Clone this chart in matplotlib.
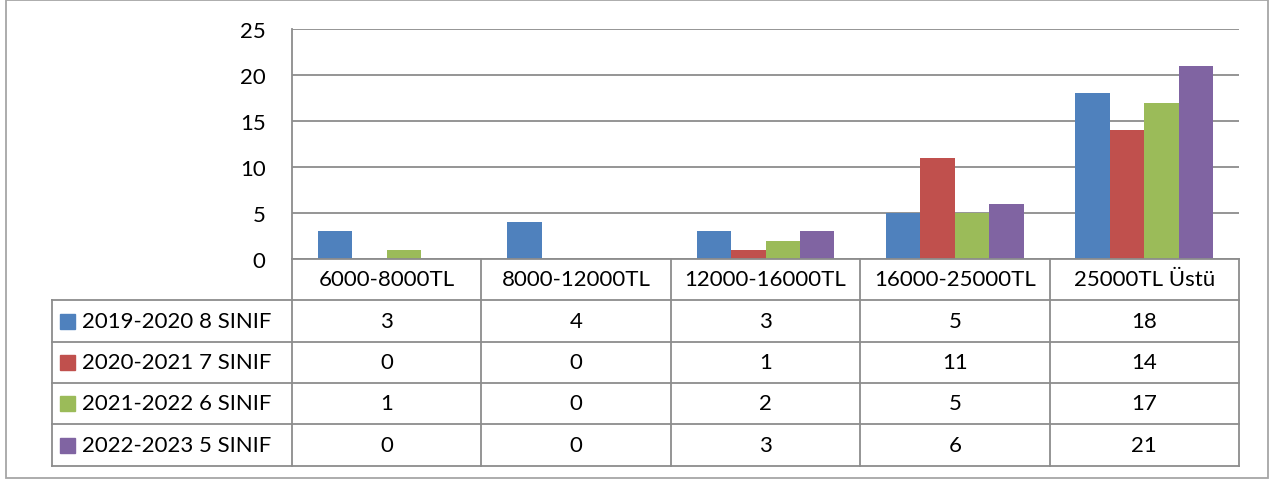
import matplotlib
matplotlib.use("Agg")
import matplotlib.pyplot as plt
from matplotlib.lines import Line2D
from matplotlib.patches import Rectangle

categories = ["6000-8000TL", "8000-12000TL", "12000-16000TL", "16000-25000TL", "25000TL Üstü"]
series_names = ["2019-2020 8 SINIF", "2020-2021 7 SINIF", "2021-2022 6 SINIF", "2022-2023 5 SINIF"]
s2019 = [3, 4, 3, 5, 18]
s2020 = [0, 0, 1, 11, 14]
s2021 = [1, 0, 2, 5, 17]
s2022 = [0, 0, 3, 6, 21]
y_ticks = [0, 5, 10, 15, 20, 25]

colors = ["#4F81BD", "#C0504D", "#9BBB59", "#8064A2"]
series = [s2019, s2020, s2021, s2022]

W, H = 1275, 481
FONT = "Lato"
FS = 16
LINE = "#8c8c8c"

fig = plt.figure(figsize=(W / 100, H / 100), dpi=100)

def fx(px):
    return px / W

def fy(py):
    return 1 - py / H

# plot area in pixels
left, right, top, bottom = 292, 1239, 30, 260
ax = fig.add_axes([fx(left), fy(bottom), fx(right) - fx(left), fy(top) - fy(bottom)])

n = len(categories)
bw = 1 / 5.5
for k, (vals, c) in enumerate(zip(series, colors)):
    xs = [i + (k - 1.5) * bw for i in range(n)]
    ax.bar(xs, vals, width=bw, color=c, zorder=3)

ax.set_xlim(-0.5, n - 0.5)
ax.set_ylim(0, 25)
ax.set_yticks(y_ticks)
ax.set_yticklabels([str(t) for t in y_ticks], fontsize=FS, family=FONT)
ax.set_xticks([])
ax.tick_params(axis="y", length=0, pad=19)
ax.yaxis.grid(True, color=LINE, linewidth=1.3, zorder=0)
for s in ["top", "right", "bottom"]:
    ax.spines[s].set_visible(False)
ax.spines["left"].set_color(LINE)
ax.spines["left"].set_linewidth(1.3)

# data table drawn on the figure
col_edges = [left + (right - left) * i / n for i in range(n + 1)]
row_edges = [260, 301, 343, 384, 425, 467]
leg_left = 52

def hline(y, x0, x1):
    fig.add_artist(Line2D([fx(x0), fx(x1)], [fy(y), fy(y)], color=LINE, linewidth=1.3))

def vline(x, y0, y1):
    fig.add_artist(Line2D([fx(x), fx(x)], [fy(y0), fy(y1)], color=LINE, linewidth=1.3))

hline(row_edges[0], left, right)
for y in row_edges[1:]:
    hline(y, leg_left, right)
for x in col_edges:
    vline(x, row_edges[0], row_edges[-1])
vline(leg_left, row_edges[1], row_edges[-1])

for i, cat in enumerate(categories):
    cx = (col_edges[i] + col_edges[i + 1]) / 2
    cy = (row_edges[0] + row_edges[1]) / 2
    fig.text(fx(cx), fy(cy), cat, ha="center", va="center", fontsize=FS, family=FONT)

for r, (name, vals, c) in enumerate(zip(series_names, series, colors)):
    cy = (row_edges[r + 1] + row_edges[r + 2]) / 2
    fig.add_artist(Rectangle((fx(60), fy(cy + 7.5)), fx(15), fy(0) - fy(15),
                             color=c, transform=fig.transFigure))
    fig.text(fx(82), fy(cy), name, ha="left", va="center", fontsize=FS, family=FONT)
    for i, v in enumerate(vals):
        cx = (col_edges[i] + col_edges[i + 1]) / 2
        fig.text(fx(cx), fy(cy), str(v), ha="center", va="center", fontsize=FS, family=FONT)

# outer chart border
fig.add_artist(Rectangle((fx(6), fy(479)), fx(1268) - fx(6), fy(1) - fy(479),
                         fill=False, edgecolor="#a6a6a6", linewidth=1.3,
                         transform=fig.transFigure))

fig.savefig("out.png", dpi=100)
